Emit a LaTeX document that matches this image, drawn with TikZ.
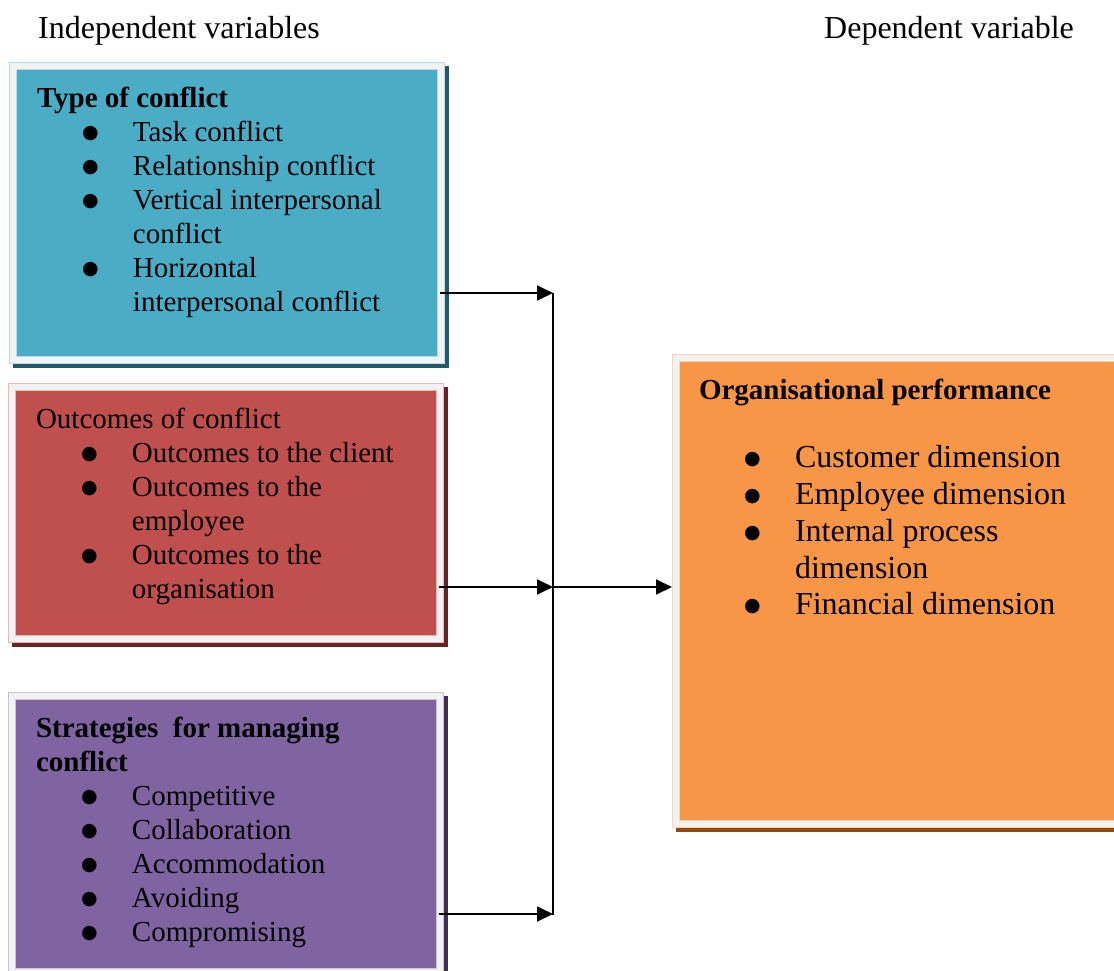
\documentclass[tikz,border=0pt]{standalone}
\usepackage{fontspec}
\setmainfont{Liberation Serif}
\newfontfamily\bulletfont{DejaVu Sans}
\usepackage{tikz}
\usepackage{xcolor}
\usetikzlibrary{positioning,arrows.meta,backgrounds}

\definecolor{framegray}{HTML}{F2F2F2}
\definecolor{typefill}{HTML}{4BACC6}
\definecolor{typeline}{HTML}{B7DDE8}
\definecolor{typedark}{HTML}{215968}
\definecolor{outfill}{HTML}{C0504D}
\definecolor{outline}{HTML}{E6B9B8}
\definecolor{outdark}{HTML}{632423}
\definecolor{stratfill}{HTML}{8064A2}
\definecolor{stratline}{HTML}{CCC1DA}
\definecolor{stratdark}{HTML}{3F3151}
\definecolor{perffill}{HTML}{F79646}
\definecolor{perfline}{HTML}{FBD5B5}
\definecolor{perfdark}{HTML}{984807}

\newcommand{\blt}{\makebox[96pt][l]{\hspace*{45pt}\raisebox{3pt}{\bulletfont\fontsize{19}{19}\selectfont ●}}}
\newcommand{\cont}{\hspace*{96pt}}

\tikzset{
    frame-box/.style = {rectangle, draw=#1, double=framegray, double distance=6.8pt, line width=0.6pt, outer sep=4pt, inner sep=0pt},
    box-text/.style = {align=left, inner sep=0pt, outer sep=0pt, font=\fontsize{29}{34}\selectfont},
    head-text/.style = {inner sep=0pt, font=\fontsize{32}{38}\selectfont},
    link/.style = {line width=1.8pt, -{Triangle[length=16pt,width=15pt]}},
}

\begin{document}
\begin{tikzpicture}[x=1pt,y=1pt]
\useasboundingbox (0,0) rectangle (1114,-971);

\node[head-text, anchor=base west] (indep) at (38,-39) {Independent variables};
\node[head-text, anchor=base west] (dep) at (824,-39) {Dependent variable};

% the four boxes
\node[frame-box=typeline, fill=typefill, minimum width=428pt, minimum height=294pt, anchor=north west] (type) at (9,-62) {};
\node[frame-box=outline, fill=outfill, minimum width=428pt, minimum height=252pt, anchor=north west] (outcome) at (8,-383) {};
\node[frame-box=stratline, fill=stratfill, minimum width=428pt, minimum height=276pt, anchor=north west] (strategy) at (8,-692) {};
\node[frame-box=perfline, fill=perffill, minimum width=448pt, minimum height=466pt, anchor=north west] (perf) at (672,-354) {};

\begin{scope}[on background layer]
    \fill[typedark] ([shift={(3.5pt,-4pt)}]type.north west) rectangle ([shift={(3.5pt,-4pt)}]type.south east);
    \fill[outdark] ([shift={(3.5pt,-4pt)}]outcome.north west) rectangle ([shift={(3.5pt,-4pt)}]outcome.south east);
    \fill[stratdark] ([shift={(3.5pt,-4pt)}]strategy.north west) rectangle ([shift={(3.5pt,-4pt)}]strategy.south east);
    \fill[perfdark] ([shift={(3.5pt,-4pt)}]perf.north west) rectangle ([shift={(3.5pt,-4pt)}]perf.south east);
\end{scope}

% box texts
\node[box-text, below right=21.2pt and 28pt] (type-text) at (type.north west) {\strut\textbf{Type of conflict}\\
    \blt Task conflict\\
    \blt Relationship conflict\\
    \blt Vertical interpersonal\\
    \cont conflict\\
    \blt Horizontal\\
    \cont interpersonal conflict};
\node[box-text, below right=21.2pt and 28pt] (outcome-text) at (outcome.north west) {\strut Outcomes of conflict\\
    \blt Outcomes to the client\\
    \blt Outcomes to the\\
    \cont employee\\
    \blt Outcomes to the\\
    \cont organisation};
\node[box-text, below right=21.2pt and 28pt] (strategy-text) at (strategy.north west) {\strut\textbf{Strategies\ \ for managing}\\
    \textbf{conflict}\\
    \blt Competitive\\
    \blt Collaboration\\
    \blt Accommodation\\
    \blt Avoiding\\
    \blt Compromising};
\node[box-text, font=\fontsize{32}{36.7}\selectfont, below right=20.3pt and 27pt] (perf-text) at (perf.north west) {\strut{\fontsize{29}{34}\selectfont\bfseries Organisational performance}\\[31.3pt]
    \blt Customer dimension\\
    \blt Employee dimension\\
    \blt Internal process\\
    \cont dimension\\
    \blt Financial dimension};

% connectors
\coordinate (j1) at (553,-293);
\coordinate (j2) at (553,-587);
\coordinate (j3) at (553,-914);
\draw[link] ([xshift=-5pt]type.east |- j1) -- (j1);
\draw[link] ([xshift=-5pt]outcome.east |- j2) -- (j2);
\draw[link] ([xshift=-5pt]strategy.east |- j3) -- (j3);
\draw[line width=1.8pt] (j1) -- ([yshift=-1pt]j3);
\draw[link] (j2) -- (perf.west |- j2);
\end{tikzpicture}
\end{document}
